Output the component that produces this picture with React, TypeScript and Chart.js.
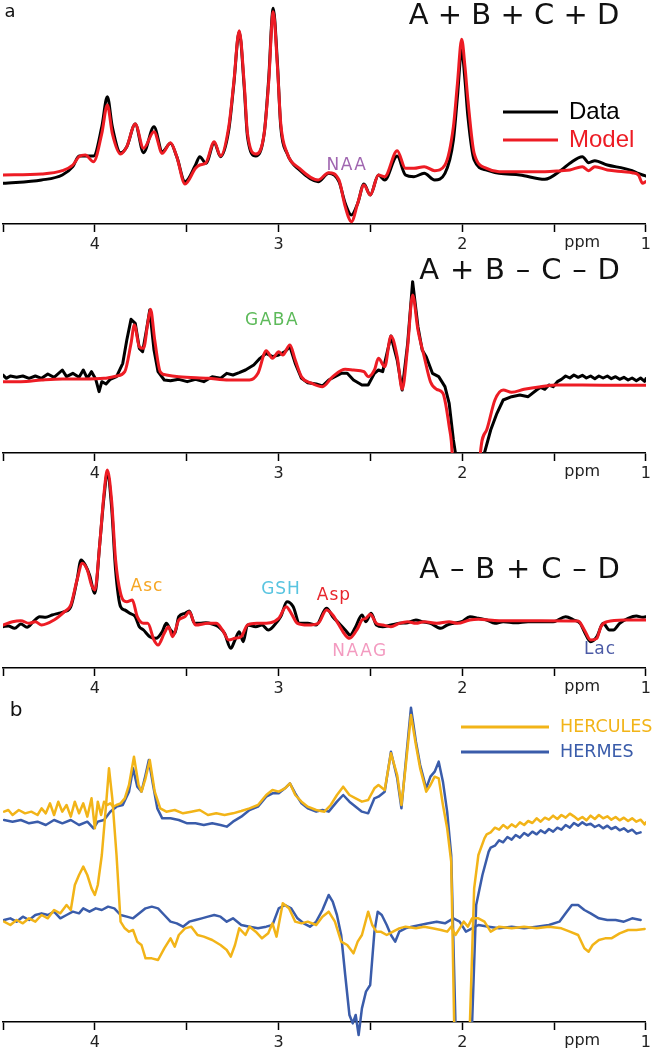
import { useEffect, useRef } from 'react';
import { Chart, registerables } from 'chart.js';

Chart.register(...registerables);

// ---------- Panel a1 : A + B + C + D ----------
const P1_PPM = [4.5, 4.290, 4.177, 4.120, 4.086, 4.052, 4.007, 3.962, 3.932, 3.905,
  3.860, 3.826, 3.780, 3.735, 3.678, 3.633, 3.588, 3.554, 3.509, 3.452,
  3.429, 3.395, 3.350, 3.316, 3.271, 3.244, 3.214, 3.187, 3.169, 3.124,
  3.078, 3.054, 3.029, 3.006, 2.988, 2.954, 2.886, 2.784, 2.727, 2.671,
  2.637, 2.603, 2.569, 2.535, 2.501, 2.456, 2.422, 2.354, 2.309, 2.263,
  2.207, 2.150, 2.094, 2.048, 2.026, 2.003, 1.985, 1.969, 1.935, 1.867,
  1.799, 1.686, 1.550, 1.460, 1.414, 1.346, 1.312, 1.278, 1.210, 1.120,
  1.075, 1.041, 1.018, 1.0];
const P1_MODEL = [-5, -2, 8, 25, 50, 55, 35, 120, 205, 120,
  58, 80, 148, 75, 125, 60, 92, 50, -32, 15,
  25, 32, 95, 52, 140, 270, 428, 270, 120, 58,
  120, 270, 485, 320, 150, 62, 15, -20, 2, -20,
  -100, -145, -90, -35, -65, -5, -10, 68, 15, 15,
  20, 8, 25, 140, 270, 402, 320, 220, 60, 15,
  5, 5, 5, 8, 10, 20, 8, 20, 10, 5,
  2, -5, -30, -25];
const P1_DATA = [-30, -20, -5, 20, 52, 52, 52, 140, 230, 140,
  62, 80, 148, 62, 140, 65, 90, 50, -25, 25,
  50, 30, 92, 50, 130, 265, 425, 260, 110, 52,
  120, 280, 495, 330, 140, 60, 10, -25, 0, -25,
  -90, -125, -90, -32, -65, -5, -20, 52, -5, -10,
  0, -20, 0, 100, 230, 370, 280, 170, 40, 10,
  0, -5, -18, 10, 30, 50, 32, 38, 25, 15,
  8, 0, -5, -8];

// ---------- Panel a2 : A + B - C - D ----------
const P2_MODEL_PPM = [4.5, 4.403, 4.290, 4.177, 4.063, 3.950, 3.882, 3.837, 3.803, 3.785,
  3.758, 3.735, 3.712, 3.697, 3.674, 3.644, 3.611, 3.543, 3.384, 3.271,
  3.158, 3.112, 3.067, 3.033, 2.999, 2.977, 2.938, 2.909, 2.875, 2.818,
  2.761, 2.705, 2.637, 2.592, 2.535, 2.512, 2.478, 2.456, 2.422, 2.388,
  2.354, 2.327, 2.297, 2.270, 2.241, 2.207, 2.173, 2.139, 2.105, 2.071,
  2.055, 2.026, 1.935, 1.901, 1.867, 1.822, 1.777, 1.731, 1.663, 1.573,
  1.482, 1.346, 1.120, 1.0];
const P2_MODEL = [-5, -5, 0, 3, 3, 5, 12, 25, 110, 165,
  100, 95, 170, 212, 120, 25, 15, 10, 5, 0,
  0, 20, 88, 65, 85, 75, 105, 60, 10, -10,
  -20, 10, 32, 30, 25, 10, 30, 65, 40, 132,
  70, -28, 100, 255, 150, 70, -5, -28, -40, -140,
  -219, -700, -700, -219, -150, -60, -30, -37, -28, -20,
  -15, -15, -16, -16];
const P2_DATA_PPM = [4.5, 4.482, 4.460, 4.426, 4.392, 4.358, 4.324, 4.290, 4.256, 4.222,
  4.177, 4.154, 4.120, 4.086, 4.063, 4.041, 4.018, 3.995, 3.977, 3.962,
  3.939, 3.916, 3.882, 3.848, 3.826, 3.803, 3.780, 3.758, 3.740, 3.719,
  3.701, 3.678, 3.656, 3.622, 3.588, 3.543, 3.497, 3.452, 3.407, 3.361,
  3.316, 3.282, 3.248, 3.214, 3.180, 3.135, 3.101, 3.067, 3.033, 2.999,
  2.965, 2.938, 2.909, 2.875, 2.841, 2.795, 2.761, 2.727, 2.693, 2.659,
  2.626, 2.592, 2.546, 2.512, 2.478, 2.456, 2.433, 2.388, 2.354, 2.327,
  2.297, 2.270, 2.241, 2.218, 2.196, 2.162, 2.128, 2.094, 2.071, 2.048,
  2.037, 2.003, 1.912, 1.879, 1.845, 1.811, 1.777, 1.731, 1.686, 1.641,
  1.595, 1.573, 1.550, 1.528, 1.505, 1.482, 1.460, 1.437, 1.414, 1.392,
  1.369, 1.346, 1.324, 1.301, 1.278, 1.256, 1.233, 1.210, 1.188, 1.165,
  1.143, 1.120, 1.097, 1.075, 1.052, 1.029, 1.007, 1.0];
const P2_DATA = [15, 5, 12, 8, 12, 5, 12, 5, 18, 8,
  30, 10, 20, 8, 30, 5, 25, 2, -35, -5,
  -12, 2, 10, 50, 120, 182, 170, 95, 85, 150,
  210, 90, 25, 0, -2, 2, -5, 2, -5, 10,
  5, 20, 15, 22, 30, 45, 65, 80, 70, 75,
  85, 100, 50, 5, -8, -12, -18, 0, 10, 20,
  20, 0, -15, -15, 20, 30, 25, 132, 60, -30,
  110, 295, 160, 90, 70, 20, 10, -20, -70, -180,
  -219, -700, -700, -219, -150, -100, -60, -50, -45, -50,
  -30, -22, -28, -15, -20, -5, 2, 12, 6, 15,
  8, 14, 6, 12, 4, 12, 6, 12, 4, 10,
  2, 8, 0, 6, -2, 6, -4, 4];

// ---------- Panel a3 : A - B + C - D ----------
const P3_MODEL_PPM = [4.5, 4.448, 4.403, 4.358, 4.324, 4.290, 4.222, 4.165, 4.131, 4.097,
  4.068, 4.041, 4.018, 4.000, 3.973, 3.950, 3.932, 3.909, 3.887, 3.860,
  3.826, 3.796, 3.769, 3.735, 3.712, 3.678, 3.656, 3.622, 3.599, 3.577,
  3.543, 3.509, 3.486, 3.452, 3.384, 3.339, 3.305, 3.271, 3.237, 3.203,
  3.169, 3.112, 3.044, 2.999, 2.958, 2.931, 2.897, 2.841, 2.784, 2.739,
  2.705, 2.671, 2.637, 2.614, 2.569, 2.546, 2.524, 2.501, 2.467, 2.433,
  2.388, 2.343, 2.297, 2.252, 2.207, 2.139, 2.071, 2.026, 1.958, 1.912,
  1.799, 1.573, 1.369, 1.335, 1.301, 1.267, 1.245, 1.210, 1.120, 1.0];
const P3_MODEL = [-5, 5, 8, 0, 5, -5, 10, 35, 55, 130,
  180, 160, 115, 100, 240, 390, 460, 370, 190, 90,
  65, 70, 20, 0, 0, -50, -65, -30, -10, -40,
  10, 20, 35, -5, 0, 0, -20, -50, -45, -40,
  -5, 0, 2, 15, 50, 30, 0, -5, 0, 40,
  25, -5, -35, -45, -15, 10, 15, 27, 0, -5,
  -10, 0, 5, 0, 5, 0, 5, 0, 10, 12,
  8, 8, 7, -20, -50, -45, -10, 5, 10, 10];
const P3_DATA_PPM = [4.5, 4.471, 4.437, 4.403, 4.369, 4.335, 4.301, 4.267, 4.233, 4.199,
  4.165, 4.131, 4.097, 4.075, 4.052, 4.029, 4.000, 3.973, 3.950, 3.932,
  3.909, 3.887, 3.860, 3.837, 3.810, 3.780, 3.758, 3.735, 3.701, 3.667,
  3.633, 3.611, 3.588, 3.565, 3.543, 3.509, 3.486, 3.457, 3.429, 3.395,
  3.361, 3.328, 3.294, 3.260, 3.237, 3.214, 3.192, 3.169, 3.124, 3.090,
  3.056, 3.022, 2.988, 2.954, 2.920, 2.886, 2.841, 2.795, 2.739, 2.705,
  2.671, 2.637, 2.610, 2.580, 2.546, 2.524, 2.496, 2.467, 2.433, 2.388,
  2.343, 2.297, 2.252, 2.218, 2.173, 2.116, 2.082, 2.048, 2.003, 1.958,
  1.912, 1.867, 1.822, 1.777, 1.709, 1.641, 1.573, 1.505, 1.437, 1.392,
  1.358, 1.335, 1.301, 1.267, 1.233, 1.199, 1.177, 1.143, 1.097, 1.052,
  1.018, 1.0];
const P3_DATA = [-10, -8, -15, -2, -12, 5, 20, 18, 25, 30,
  35, 50, 130, 190, 175, 145, 90, 240, 380, 450,
  350, 160, 50, 40, 30, 20, -10, -20, -40, -45,
  -25, 0, -20, -30, 20, 30, 37, 0, 0, 2,
  -2, -10, -30, -75, -50, -25, -55, -5, -10, -5,
  -20, -5, 20, 65, 50, 0, 0, -5, 45, 20,
  0, -20, -35, -10, 25, 5, 30, -5, -10, -5,
  0, 2, 10, 5, 0, -15, -5, 0, 5, 20,
  15, 10, 0, 5, 2, 5, 5, 5, 20, 10,
  0, -25, -55, -40, 0, -20, -20, 0, 15, 22,
  18, 20];

// ---------- Panel b : HERCULES vs HERMES ----------
const HERC_SUM_PPM = [4.494, 4.471, 4.448, 4.414, 4.380, 4.346, 4.312, 4.290, 4.267, 4.244,
  4.222, 4.199, 4.177, 4.154, 4.131, 4.109, 4.086, 4.063, 4.041, 4.018,
  4.000, 3.984, 3.966, 3.950, 3.932, 3.916, 3.900, 3.882, 3.860, 3.837,
  3.814, 3.787, 3.762, 3.746, 3.724, 3.701, 3.674, 3.644, 3.611, 3.565,
  3.520, 3.475, 3.429, 3.384, 3.339, 3.294, 3.248, 3.203, 3.158, 3.112,
  3.067, 3.033, 2.999, 2.965, 2.938, 2.909, 2.875, 2.841, 2.795, 2.750,
  2.716, 2.682, 2.648, 2.614, 2.580, 2.546, 2.512, 2.478, 2.456, 2.422,
  2.388, 2.354, 2.331, 2.309, 2.279, 2.252, 2.229, 2.196, 2.173, 2.150,
  2.128, 2.105, 2.082, 2.060, 2.044, 2.014, 1.980, 1.958, 1.935, 1.912,
  1.879, 1.867, 1.845, 1.822, 1.799, 1.777, 1.754, 1.731, 1.709, 1.686,
  1.663, 1.641, 1.618, 1.595, 1.573, 1.550, 1.528, 1.505, 1.482, 1.460,
  1.437, 1.414, 1.392, 1.369, 1.346, 1.324, 1.301, 1.278, 1.256, 1.233,
  1.210, 1.188, 1.165, 1.143, 1.120, 1.097, 1.075, 1.052, 1.029, 1.007,
  1.0];
const HERC_SUM = [330, 335, 320, 335, 325, 330, 320, 340, 325, 355,
  320, 360, 330, 350, 315, 360, 325, 355, 315, 370,
  280, 360, 320, 360, 350, 355, 345, 350, 355, 370,
  410, 495, 410, 390, 430, 485, 390, 340, 330, 335,
  325, 330, 335, 320, 325, 320, 325, 332, 340, 350,
  380, 395, 390, 400, 415, 380, 360, 345, 335, 330,
  350, 380, 405, 380, 370, 360, 365, 400, 410, 395,
  505, 440, 350, 460, 620, 530, 460, 390, 410, 435,
  430, 350, 280, 180, -301, -800, -800, -301, 100, 200,
  250, 262, 268, 282, 276, 290, 280, 292, 284, 298,
  290, 302, 296, 310, 300, 312, 306, 318, 308, 320,
  312, 324, 316, 306, 314, 304, 318, 308, 320, 310,
  316, 306, 314, 304, 312, 302, 310, 300, 306, 292,
  298];
const HERM_SUM_PPM = [4.494, 4.448, 4.403, 4.358, 4.312, 4.267, 4.222, 4.177, 4.131, 4.086,
  4.041, 4.007, 3.984, 3.950, 3.916, 3.882, 3.848, 3.814, 3.792, 3.769,
  3.746, 3.724, 3.706, 3.683, 3.660, 3.633, 3.588, 3.543, 3.497, 3.452,
  3.407, 3.361, 3.316, 3.282, 3.248, 3.203, 3.158, 3.112, 3.067, 3.033,
  2.999, 2.965, 2.938, 2.909, 2.875, 2.841, 2.795, 2.761, 2.727, 2.682,
  2.648, 2.614, 2.580, 2.546, 2.512, 2.478, 2.456, 2.422, 2.388, 2.354,
  2.331, 2.309, 2.279, 2.252, 2.229, 2.196, 2.173, 2.150, 2.128, 2.105,
  2.082, 2.060, 2.037, 2.003, 1.969, 1.946, 1.924, 1.890,
  1.856, 1.845, 1.822, 1.799, 1.777, 1.754, 1.731, 1.709, 1.686, 1.663,
  1.641, 1.618, 1.595, 1.573, 1.550, 1.528, 1.505, 1.482, 1.460, 1.437,
  1.414, 1.392, 1.369, 1.346, 1.324, 1.301, 1.278, 1.256, 1.233, 1.210,
  1.188, 1.165, 1.143, 1.120, 1.097, 1.075, 1.052, 1.029];
const HERM_SUM = [305, 300, 305, 295, 300, 290, 305, 295, 305, 290,
  300, 280, 300, 305, 330, 345, 350, 390, 460, 405,
  390, 440, 485, 410, 340, 310, 310, 305, 295, 295,
  290, 295, 290, 285, 300, 315, 335, 345, 375, 385,
  385, 400, 415, 385, 355, 340, 330, 335, 330, 360,
  380, 360, 345, 330, 325, 370, 375, 390, 510, 430,
  340, 470, 642, 540, 470, 400, 435, 450, 480, 420,
  330, 200, -301, -800, -800, -301, 50, 140,
  210, 222, 228, 244, 238, 254, 246, 260, 252, 266,
  258, 270, 262, 274, 266, 278, 270, 282, 276, 290,
  282, 296, 288, 298, 290, 294, 284, 290, 280, 288,
  278, 284, 274, 280, 270, 276, 264, 268];
const HERC_DIFF_PPM = [4.494, 4.460, 4.426, 4.392, 4.358, 4.324, 4.290, 4.256, 4.222, 4.188,
  4.154, 4.131, 4.109, 4.086, 4.063, 4.041, 4.018, 4.000, 3.984, 3.962,
  3.939, 3.923, 3.905, 3.882, 3.860, 3.837, 3.814, 3.792, 3.769, 3.746,
  3.724, 3.690, 3.656, 3.622, 3.588, 3.565, 3.543, 3.509, 3.475, 3.441,
  3.407, 3.361, 3.316, 3.282, 3.260, 3.237, 3.214, 3.180, 3.158, 3.124,
  3.090, 3.056, 3.033, 3.011, 2.977, 2.943, 2.909, 2.875, 2.841, 2.795,
  2.761, 2.727, 2.693, 2.659, 2.626, 2.592, 2.569, 2.546, 2.512, 2.490,
  2.467, 2.444, 2.411, 2.377, 2.343, 2.309, 2.252, 2.207, 2.162, 2.116,
  2.082, 2.060, 2.037, 2.014, 1.992, 1.969, 1.946, 1.912, 1.879, 1.845,
  1.799, 1.731, 1.663, 1.595, 1.528, 1.460, 1.414, 1.369, 1.335, 1.312,
  1.290, 1.256, 1.222, 1.188, 1.143, 1.097, 1.052, 1.007];
const HERC_DIFF = [0, -10, 5, -5, 10, 0, 20, 10, 35, 25,
  50, 35, 110, 140, 165, 140, 100, 80, 110, 200,
  350, 460, 370, 200, 0, -20, -30, -25, -60, -70,
  -110, -110, -115, -80, -50, -75, -40, -20, -15, -40,
  -45, -55, -70, -85, -105, -70, -20, -40, -15, -30,
  -50, -35, -5, -45, 55, 40, 0, -5, 0, -10,
  15, 30, 0, -60, -70, -95, -60, -40, 30, -10,
  -30, -30, -40, -30, -20, -15, -20, -15, -20, -25,
  -30, -15, -40, -20, 0, -15, 10, 10, 0, -30,
  -15, -20, -15, -20, -15, -20, -30, -40, -80, -90,
  -70, -55, -50, -50, -35, -25, -25, -22];
const HERM_DIFF_PPM = [4.494, 4.460, 4.426, 4.392, 4.358, 4.324, 4.290, 4.256, 4.222, 4.188,
  4.154, 4.120, 4.086, 4.063, 4.029, 3.995, 3.962, 3.928, 3.894, 3.860,
  3.826, 3.792, 3.758, 3.724, 3.690, 3.656, 3.622, 3.588, 3.554, 3.520,
  3.486, 3.452, 3.418, 3.384, 3.350, 3.316, 3.282, 3.248, 3.203, 3.158,
  3.112, 3.067, 3.033, 2.999, 2.965, 2.931, 2.897, 2.863, 2.829, 2.795,
  2.761, 2.727, 2.705, 2.682, 2.659, 2.637, 2.614, 2.596, 2.580, 2.564,
  2.546, 2.524, 2.501, 2.478, 2.460, 2.438, 2.411, 2.388, 2.365, 2.343,
  2.309, 2.275, 2.229, 2.184, 2.139, 2.094, 2.048, 2.014, 1.980, 1.946,
  1.912, 1.856, 1.799, 1.731, 1.663, 1.595, 1.528, 1.471, 1.437, 1.403,
  1.369, 1.335, 1.301, 1.256, 1.210, 1.165, 1.120, 1.075, 1.029];
const HERM_DIFF = [5, 10, 0, 15, 5, 20, 25, 20, 30, 10,
  20, 30, 25, 40, 30, 40, 35, 45, 40, 20,
  15, 10, 25, 40, 45, 40, 20, 0, -5, -15,
  0, 5, 10, 15, 20, 15, 0, 10, -10, -15,
  -20, -15, -10, 40, 50, 40, 10, -5, -15, 0,
  35, 80, 60, 20, -40, -160, -280, -305, -280, -340,
  -260, -210, -190, -30, 30, 20, -10, -40, -60, -30,
  -20, -15, -10, -5, 0, -5, 10, 0, -30, -20,
  -10, -15, -20, -15, -20, -15, -10, 0, 25, 50,
  50, 35, 25, 10, 5, 5, 0, 10, 5];

const X_TICK_LABELS = [4, 3, 2, 1];

// ---------- styling ----------
const FONT = 'DejaVu Sans';
const BLACK = '#000000';
const RED = '#ED1C24';
const GOLD = '#F2B418';
const BLUE = '#3A5CAA';

const pts = (x: number[], y: number[]) => x.map((v, i) => ({ x: v, y: y[i] }));

const series = (x: number[], y: number[], color: string, width: number, smooth: boolean, clip?: any) => ({
  data: pts(x, y),
  borderColor: color,
  backgroundColor: color,
  borderWidth: width,
  pointRadius: 0,
  fill: false,
  tension: 0,
  cubicInterpolationMode: smooth ? 'monotone' : 'default',
  borderJoinStyle: 'round',
  borderCapStyle: 'round',
  ...(clip !== undefined ? { clip } : {}),
});

type TextItem = { t: string; x: number; y: number; color?: string; size?: number; family?: string; align?: CanvasTextAlign; spacing?: number };
type LegendLine = { x1: number; x2: number; y: number; color: string; width: number };

const overlayPlugin = {
  id: 'overlay',
  afterDraw(chart: any, _args: any, opts: any) {
    const ctx: CanvasRenderingContext2D = chart.ctx;
    const top: number = opts.top || 0;
    ctx.save();
    for (const l of (opts.lines || []) as LegendLine[]) {
      ctx.beginPath();
      ctx.strokeStyle = l.color;
      ctx.lineWidth = l.width;
      ctx.moveTo(l.x1, l.y - top);
      ctx.lineTo(l.x2, l.y - top);
      ctx.stroke();
    }
    for (const it of (opts.texts || []) as TextItem[]) {
      ctx.font = `${it.size || 16}px "${it.family || FONT}"`;
      ctx.fillStyle = it.color || '#111';
      ctx.textAlign = it.align || 'center';
      ctx.textBaseline = 'middle';
      (ctx as any).letterSpacing = `${it.spacing || 0}px`;
      ctx.fillText(it.t, it.x, it.y - top);
    }
    // "ppm" unit label next to the ticks
    const xs = chart.scales.x;
    (ctx as any).letterSpacing = '0px';
    ctx.font = `16px "${FONT}"`;
    ctx.fillStyle = '#222';
    ctx.textAlign = 'center';
    ctx.textBaseline = 'middle';
    ctx.fillText('ppm', xs.getPixelForValue(1.347), xs.top + 19);
    ctx.restore();
  },
};

type PanelCfg = {
  top: number;
  h: number;
  ymin: number;
  ymax: number;
  datasets: any[];
  texts: TextItem[];
  lines: LegendLine[];
};

const PANELS: PanelCfg[] = [
  {
    top: 0, h: 258, ymin: -152, ymax: 520,
    datasets: [
      series(P1_PPM, P1_MODEL, RED, 3, true),
      series(P1_PPM, P1_DATA, BLACK, 3, true),
    ],
    texts: [
      { t: 'a', x: 10, y: 12, size: 18, color: '#111' },
      { t: 'A + B + C + D', x: 514, y: 16, size: 29, color: '#111' },
      { t: 'NAA', x: 347, y: 166, size: 17, color: '#A066B0', spacing: 1.5 },
      { t: 'Data', x: 569, y: 112, size: 24, family: 'Liberation Sans', align: 'left', color: '#000' },
      { t: 'Model', x: 569, y: 140, size: 24, family: 'Liberation Sans', align: 'left', color: RED },
    ],
    lines: [
      { x1: 503, x2: 558, y: 112, color: BLACK, width: 3 },
      { x1: 503, x2: 558, y: 140, color: RED, width: 3 },
    ],
  },
  {
    top: 230, h: 257, ymin: -219, ymax: 450,
    datasets: [
      series(P2_MODEL_PPM, P2_MODEL, RED, 3, true),
      series(P2_DATA_PPM, P2_DATA, BLACK, 3, false),
    ],
    texts: [
      { t: 'A + B \u2013 C \u2013 D', x: 520, y: 271, size: 29, color: '#111', spacing: 0.8 },
      { t: 'GABA', x: 272, y: 321, size: 17, color: '#5DBA5A', spacing: 1.5 },
    ],
    lines: [],
  },
  {
    top: 460, h: 242, ymin: -134, ymax: 490,
    datasets: [
      series(P3_MODEL_PPM, P3_MODEL, RED, 3, true),
      series(P3_DATA_PPM, P3_DATA, BLACK, 3, true),
    ],
    texts: [
      { t: 'A \u2013 B + C \u2013 D', x: 520, y: 570, size: 29, color: '#111', spacing: 0.8 },
      { t: 'Asc', x: 147, y: 587, size: 17, color: '#F6A623', spacing: 1 },
      { t: 'GSH', x: 281, y: 590, size: 17, color: '#58C4E0', spacing: 1 },
      { t: 'Asp', x: 334, y: 596, size: 17, color: '#E8262D', spacing: 1 },
      { t: 'NAAG', x: 360, y: 652, size: 17, color: '#F39BC0', spacing: 1.5 },
      { t: 'Lac', x: 600, y: 650, size: 17, color: '#4C5BA6', spacing: 1 },
    ],
    lines: [],
  },
  {
    top: 655, h: 401, ymin: -301, ymax: 800,
    datasets: [
      series(HERC_SUM_PPM, HERC_SUM, GOLD, 2.5, false),
      series(HERC_DIFF_PPM, HERC_DIFF, GOLD, 2.5, false),
      series(HERM_SUM_PPM, HERM_SUM, BLUE, 2.5, false),
      series(HERM_DIFF_PPM, HERM_DIFF, BLUE, 2.5, false, { left: 0, top: 0, right: 0, bottom: 20 }),
    ],
    texts: [
      { t: 'b', x: 16, y: 711, size: 20, color: '#111' },
      { t: 'HERCULES', x: 560, y: 727, size: 17.5, color: GOLD, align: 'left' },
      { t: 'HERMES', x: 560, y: 752, size: 17.5, color: BLUE, align: 'left' },
    ],
    lines: [
      { x1: 461, x2: 549, y: 727, color: GOLD, width: 3 },
      { x1: 461, x2: 549, y: 752, color: BLUE, width: 3 },
    ],
  },
];

function Panel({ cfg }: { cfg: PanelCfg }) {
  const ref = useRef<HTMLCanvasElement>(null);
  useEffect(() => {
    if (!ref.current) return;
    const chart = new Chart(ref.current, {
      type: 'line',
      data: { datasets: cfg.datasets as any },
      plugins: [overlayPlugin as any],
      options: {
        animation: false,
        responsive: false,
        maintainAspectRatio: false,
        events: [],
        layout: { padding: { left: 3, right: 5, top: 0, bottom: 0 } },
        plugins: {
          legend: { display: false },
          tooltip: { enabled: false },
          overlay: { top: cfg.top, texts: cfg.texts, lines: cfg.lines },
        } as any,
        scales: {
          x: {
            type: 'linear',
            reverse: true,
            min: 1,
            max: 4.5,
            afterFit: (s: any) => { s.height = 34; },
            border: { display: true, color: '#000', width: 1.5 },
            grid: { display: true, drawOnChartArea: false, drawTicks: true, tickLength: 8, tickWidth: 1.5, tickColor: '#000' },
            ticks: {
              stepSize: 0.5,
              autoSkip: false,
              maxRotation: 0,
              padding: 3,
              color: '#222',
              font: { family: FONT, size: 16 },
              callback: (v: any) => (X_TICK_LABELS.includes(Number(v)) ? String(v) : ''),
            },
          },
          y: { display: false, min: cfg.ymin, max: cfg.ymax },
        },
      } as any,
    });
    return () => chart.destroy();
  }, [cfg]);
  return (
    <canvas
      ref={ref}
      width={654}
      height={cfg.h}
      style={{ position: 'absolute', left: 0, top: cfg.top, width: 654, height: cfg.h }}
    />
  );
}

export default function App() {
  return (
    <div style={{ position: 'absolute', left: 0, top: 0, width: 654, height: 1050, background: '#fff', overflow: 'hidden' }}>
      {PANELS.map((p, i) => (
        <Panel key={i} cfg={p} />
      ))}
    </div>
  );
}
